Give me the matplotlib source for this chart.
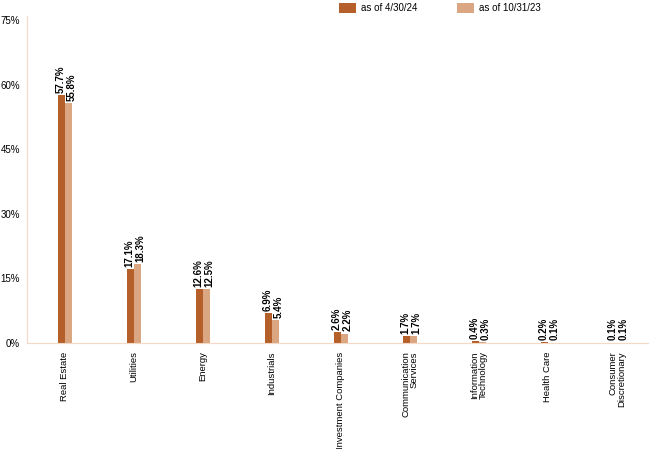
import numpy as np
import matplotlib
matplotlib.use('Agg')
import matplotlib.pyplot as plt

sectors = ['Real Estate', 'Utilities', 'Energy', 'Industrials', 'Investment Companies',
           'Communication\nServices', 'Information\nTechnology', 'Health Care',
           'Consumer\nDiscretionary']
cur = [57.7, 17.1, 12.6, 6.9, 2.6, 1.7, 0.4, 0.2, 0.1]
prev = [55.8, 18.3, 12.5, 5.4, 2.2, 1.7, 0.3, 0.1, 0.1]
yticks = [0, 15, 30, 45, 60, 75]

dark = '#B5602A'
light = '#DBA782'
axcol = '#F5D8C6'

plt.rcParams['font.family'] = ['Liberation Sans', 'DejaVu Sans']

fig = plt.figure(figsize=(6.5, 4.49), dpi=100)
ax = fig.add_axes([0.0415, 0.236, 0.9555, 0.719])

x = np.arange(len(sectors))
w = 0.098
ax.bar(x - w/2 - 0.004, cur, width=w, color=dark, label='as of 4/30/24')
ax.bar(x + w/2 + 0.004, prev, width=w, color=light, label='as of 10/31/23')

# value labels above each bar
for i in range(len(x)):
    ax.text(x[i] - w/2 - 0.012, cur[i] + 0.5, f'{cur[i]:.1f}%', rotation=90, ha='center',
            va='bottom', fontsize=7, fontweight='bold')
    ax.text(x[i] + w/2 + 0.045, prev[i] + 0.5, f'{prev[i]:.1f}%', rotation=90, ha='center',
            va='bottom', fontsize=7, fontweight='bold')

ax.set_xlim(-0.55, len(sectors) - 0.55)
ax.set_ylim(0, 75)
ax.set_yticks(yticks)
ax.set_yticklabels([f'{t}%' for t in yticks], fontsize=7)
ax.set_xticks(x)
ax.set_xticklabels(sectors, rotation=90, fontsize=6.8, va='top', ha='center',
                   multialignment='right', linespacing=0.95)
ax.tick_params(axis='y', length=0, pad=5)
ax.tick_params(axis='x', length=0, pad=6)

for s in ['top', 'right']:
    ax.spines[s].set_visible(False)
ax.spines['left'].set_color(axcol)
ax.spines['bottom'].set_color(axcol)
ax.spines['left'].set_bounds(0, 76)

leg = fig.legend(loc='upper left', bbox_to_anchor=(0.508, 1.012), ncol=2, frameon=False,
                 fontsize=7, handlelength=1.8, handleheight=1.1, columnspacing=4.0,
                 handletextpad=0.5)

fig.savefig('out.png', dpi=100)
